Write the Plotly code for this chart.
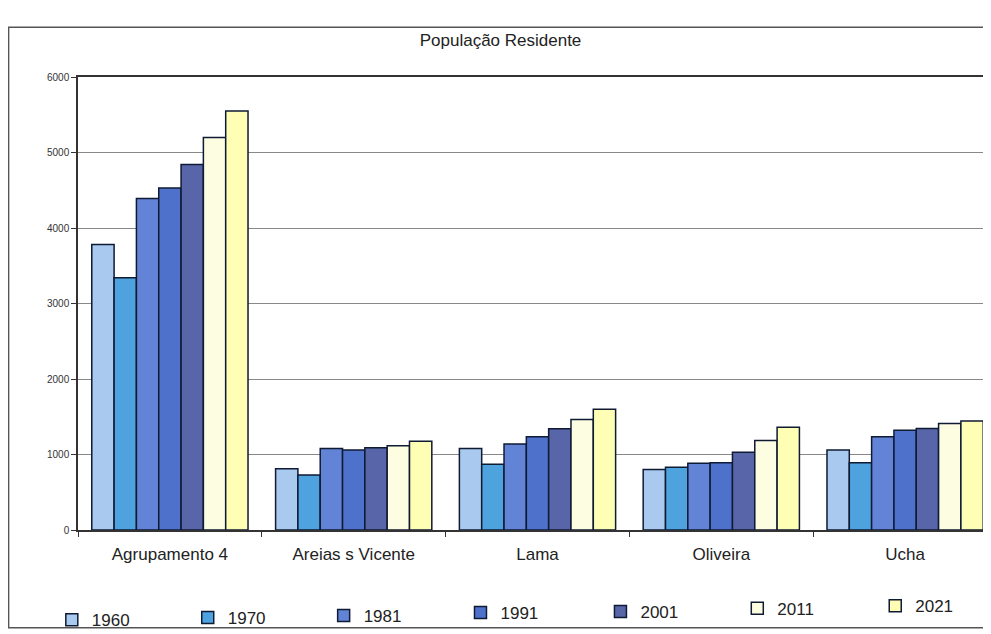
import plotly.graph_objects as go

categories = ["Agrupamento 4", "Areias s Vicente", "Lama", "Oliveira", "Ucha"]
years = ["1960", "1970", "1981", "1991", "2001", "2011", "2021"]
v1960 = [3780, 810, 1080, 800, 1060]
v1970 = [3340, 730, 870, 830, 890]
v1981 = [4390, 1080, 1140, 885, 1235]
v1991 = [4530, 1060, 1235, 890, 1320]
v2001 = [4840, 1090, 1340, 1030, 1345]
v2011 = [5200, 1115, 1465, 1185, 1410]
v2021 = [5550, 1175, 1600, 1360, 1445]
series = [v1960, v1970, v1981, v1991, v2001, v2011, v2021]
colors = ["#a9c9ef", "#4ea2de", "#6384d6", "#4e72cc", "#5865a8", "#fdfde2", "#fefeb4"]

# legend placement (paper coords) for each year entry
leg_x = [-0.0285, 0.1194, 0.2673, 0.4162, 0.5685, 0.7174, 0.8675]
leg_y = [-0.199, -0.194, -0.19, -0.183, -0.181, -0.174, -0.168]

fig = go.Figure()
layout_legends = {}
for i, (y, vals, c) in enumerate(zip(years, series, colors)):
    lname = "legend" if i == 0 else f"legend{i + 1}"
    fig.add_trace(go.Bar(
        name=y, x=categories, y=vals, legend=lname,
        marker=dict(color=c, line=dict(color="#0f1a33", width=1.5)),
    ))
    layout_legends[lname] = dict(
        orientation="h", x=leg_x[i], xanchor="left", y=leg_y[i], yanchor="middle",
        itemwidth=30, font=dict(size=17, color="#222"), bgcolor="rgba(0,0,0,0)",
    )

fig.update_layout(
    width=991, height=634,
    paper_bgcolor="white", plot_bgcolor="white",
    margin=dict(l=70, r=0, t=69, b=112),
    barmode="group", bargap=0.15, bargroupgap=0,
    font=dict(family="Liberation Sans, Arial, sans-serif", color="#222"),
    title=dict(text="População Residente", x=0.497, xanchor="center",
               y=0.95, yanchor="middle", font=dict(size=17, color="#222")),
    showlegend=True,
    **layout_legends,
)
fig.update_yaxes(range=[0, 6000], dtick=1000, showgrid=True, gridcolor="#888",
                 gridwidth=1, showline=True, linecolor="#333", linewidth=1.5,
                 mirror=True, ticks="outside", ticklen=5, tickcolor="#333",
                 tickfont=dict(size=10, color="#333"), zeroline=False)
fig.update_xaxes(showline=True, linecolor="#333", linewidth=1.5, mirror=True,
                 ticks="outside", ticklen=5, tickcolor="#333", tickson="boundaries",
                 tickfont=dict(size=17, color="#222"), ticklabelstandoff=8)
fig.add_shape(type="rect", xref="paper", yref="paper",
              x0=-0.0755, x1=1.2, y0=-0.216, y1=1.11,
              line=dict(color="#555", width=1.5), fillcolor="rgba(0,0,0,0)", layer="below")

fig.write_html("out.html")
